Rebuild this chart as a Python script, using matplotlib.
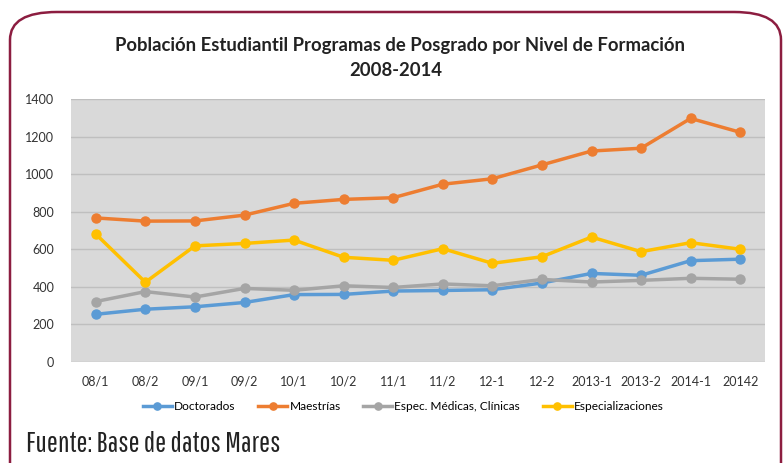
import matplotlib.pyplot as plt
from matplotlib.patches import FancyBboxPatch

periodos = ['08/1', '08/2', '09/1', '09/2', '10/1', '10/2', '11/1', '11/2',
            '12-1', '12-2', '2013-1', '2013-2', '2014-1', '20142']
doctorados = [253, 280, 293, 316, 358, 359, 377, 380, 384, 420, 471, 461, 539, 547]
maestrias = [767, 750, 751, 782, 845, 866, 875, 947, 976, 1050, 1124, 1139, 1298, 1224]
espec_medicas = [321, 374, 345, 391, 381, 405, 396, 415, 405, 439, 425, 434, 445, 440]
especializaciones = [681, 424, 618, 631, 649, 557, 541, 603, 525, 560, 665, 587, 635, 600]

series = [
    ('Doctorados', doctorados, '#5b9bd5'),
    ('Maestrías', maestrias, '#ed7d31'),
    ('Espec. Médicas, Clínicas', espec_medicas, '#a5a5a5'),
    ('Especializaciones', especializaciones, '#ffc000'),
]

plt.rcParams['font.family'] = ['Lato', 'DejaVu Sans']

fig = plt.figure(figsize=(7.83, 4.63), dpi=100)
W, H = 783, 463

# marco redondeado
frame = FancyBboxPatch((10 / W, -0.2), 771 / W, 1.2 - 12 / H,
                       boxstyle='round,pad=0,rounding_size=0.06',
                       transform=fig.transFigure, fill=False,
                       edgecolor='#8c1d40', linewidth=1.8, zorder=0)
fig.patches.append(frame)

ax = fig.add_axes([71 / W, 1 - 361.7 / H, (765 - 71) / W, (361.7 - 99.3) / H])
ax.set_facecolor('#d9d9d9')

x = range(len(periodos))
for name, vals, color in series:
    ax.plot(x, vals, color=color, linewidth=2.5, marker='o', markersize=6.5,
            label=name, zorder=3)

ax.set_ylim(0, 1400)
ax.set_yticks(range(0, 1401, 200))
ax.set_xlim(-0.5, len(periodos) - 0.5)
ax.set_xticks(list(x))
ax.set_xticklabels(periodos)
ax.grid(axis='y', color='#bfbfbf', linewidth=1)
ax.set_axisbelow(True)
for s in ax.spines.values():
    s.set_visible(False)
ax.tick_params(length=0, labelsize=9, colors='#333333')
ax.tick_params(axis='x', pad=10)
ax.tick_params(axis='y', pad=12)

fig.text(400 / W, 1 - 46 / H, 'Población Estudiantil Programas de Posgrado por Nivel de Formación',
         ha='center', va='center', fontsize=13.3, fontweight='bold', color='#222222')
fig.text(396 / W, 1 - 71 / H, '2008-2014', ha='center', va='center',
         fontsize=13.3, fontweight='bold', color='#222222')

fig.legend(loc='center', bbox_to_anchor=(403.5 / W, 1 - 407 / H), ncol=4, frameon=False,
           fontsize=8.6, handlelength=2.4, columnspacing=1.9, handletextpad=0.2,
           markerscale=0.8)

fig.text(26 / W, 1 - 444 / H, 'Fuente: Base de datos Mares', ha='left', va='center',
         fontsize=21, family=['Pathway Gothic One', 'DejaVu Sans'], color='#222222')

fig.savefig('out.png', dpi=100)
